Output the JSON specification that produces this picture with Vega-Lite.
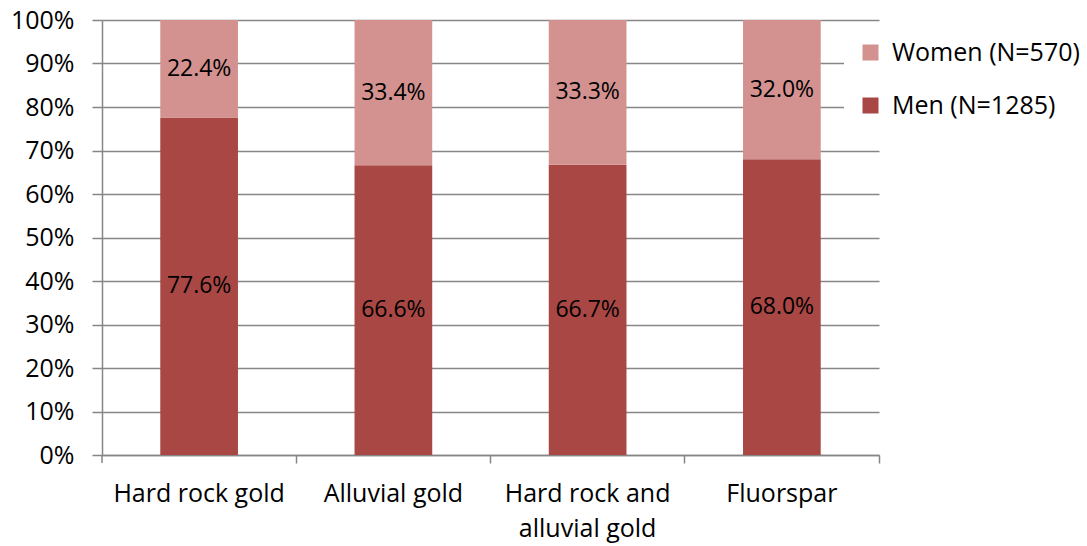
{
  "$schema": "https://vega.github.io/schema/vega-lite/v6.json",
  "autosize": {"type": "none"},
  "padding": {"left": 102, "top": 20, "right": 208, "bottom": 91},
  "width": 777,
  "height": 435,
  "background": "white",
  "config": {
    "view": {"stroke": null},
    "font": "Open Sans",
    "axisY": {
      "title": null,
      "format": ".0%",
      "values": [0, 0.1, 0.2, 0.3, 0.4, 0.5, 0.6, 0.7, 0.8, 0.9, 1],
      "labelOverlap": false,
      "labelFontSize": 25,
      "labelColor": "#000000",
      "labelPadding": 18,
      "tickSize": 10,
      "tickColor": "#868686",
      "domainColor": "#868686",
      "gridColor": "#868686",
      "tickWidth": 1.5,
      "domainWidth": 1.5,
      "gridWidth": 1.5,
      "grid": true
    }
  },
  "data": {
    "values": [
      {"site": "Hard rock gold", "sex": "Men (N=1285)", "ord": 1, "value": 0.776},
      {"site": "Hard rock gold", "sex": "Women (N=570)", "ord": 2, "value": 0.224},
      {"site": "Alluvial gold", "sex": "Men (N=1285)", "ord": 1, "value": 0.666},
      {"site": "Alluvial gold", "sex": "Women (N=570)", "ord": 2, "value": 0.334},
      {"site": "Hard rock and alluvial gold", "sex": "Men (N=1285)", "ord": 1, "value": 0.667},
      {"site": "Hard rock and alluvial gold", "sex": "Women (N=570)", "ord": 2, "value": 0.333},
      {"site": "Fluorspar", "sex": "Men (N=1285)", "ord": 1, "value": 0.680},
      {"site": "Fluorspar", "sex": "Women (N=570)", "ord": 2, "value": 0.320}
    ]
  },
  "transform": [
    {"stack": "value", "groupby": ["site"], "sort": [{"field": "ord", "order": "ascending"}], "as": ["v0", "v1"]},
    {"calculate": "(datum.v0 + datum.v1) / 2", "as": "mid"}
  ],
  "resolve": {"axis": {"x": "independent"}},
  "layer": [
    {
      "mark": {"type": "bar"},
      "encoding": {
        "x": {
          "field": "site",
          "type": "nominal",
          "sort": ["Hard rock gold", "Alluvial gold", "Hard rock and alluvial gold", "Fluorspar"],
          "scale": {"paddingInner": 0.6, "paddingOuter": 0.3},
          "axis": {
            "title": null,
            "orient": "bottom",
            "labelAngle": 0,
            "labelFontSize": 25,
            "labelColor": "#000000",
            "labelPadding": 26,
            "labelBaseline": "top",
            "labelLineHeight": 35,
            "labelLimit": 400,
            "labelExpr": "datum.label == 'Hard rock and alluvial gold' ? ['Hard rock and', 'alluvial gold'] : datum.label",
            "ticks": false,
            "domainColor": "#868686",
            "domainWidth": 1.5,
            "grid": false
          }
        },
        "y": {
          "field": "v1",
          "type": "quantitative",
          "scale": {"domain": [0, 1]}
        },
        "y2": {"field": "v0"},
        "color": {
          "field": "sex",
          "type": "nominal",
          "scale": {"domain": ["Women (N=570)", "Men (N=1285)"], "range": ["#D39290", "#A94745"]},
          "legend": {
            "title": null,
            "orient": "none",
            "legendX": 742,
            "legendY": 6,
            "fillColor": "white",
            "padding": 14,
            "symbolType": "square",
            "symbolSize": 256,
            "symbolStrokeWidth": 0,
            "labelFontSize": 25,
            "labelLimit": 400,
            "labelColor": "#000000",
            "labelOffset": 9,
            "rowPadding": 27
          }
        }
      }
    },
    {
      "mark": {"type": "text", "fontSize": 23, "color": "#000000", "baseline": "middle"},
      "encoding": {
        "x": {
          "field": "site",
          "type": "nominal",
          "sort": ["Hard rock gold", "Alluvial gold", "Hard rock and alluvial gold", "Fluorspar"],
          "axis": {
            "title": null,
            "orient": "bottom",
            "labels": false,
            "domain": false,
            "grid": false,
            "ticks": true,
            "bandPosition": 1.75,
            "tickSize": 8,
            "tickColor": "#868686",
            "tickWidth": 1.5
          }
        },
        "y": {
          "field": "mid",
          "type": "quantitative",
          "scale": {"domain": [0, 1]}
        },
        "text": {"field": "value", "type": "quantitative", "format": ".1%"}
      }
    },
    {
      "transform": [{"filter": "datum.site == 'Hard rock gold' && datum.ord == 1"}],
      "mark": {"type": "rule", "color": "#868686", "strokeWidth": 1.5, "y2Offset": 8},
      "encoding": {
        "x": {
          "field": "site",
          "type": "nominal",
          "sort": ["Hard rock gold", "Alluvial gold", "Hard rock and alluvial gold", "Fluorspar"],
          "bandPosition": -0.75,
          "axis": null
        },
        "y": {"datum": 0, "type": "quantitative", "scale": {"domain": [0, 1]}},
        "y2": {"datum": 0}
      }
    }
  ]
}
